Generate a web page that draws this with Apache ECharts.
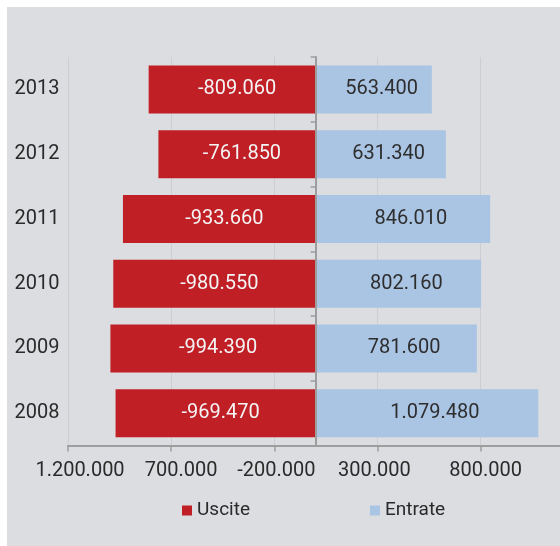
<!DOCTYPE html>
<html>
<head>
<meta charset="utf-8">
<script src="https://cdn.jsdelivr.net/npm/echarts@6/dist/echarts.min.js"></script>
<style>
  html, body { margin: 0; padding: 0; background: #ffffff; }
  #panel { position: absolute; left: 7px; top: 7px; width: 553px; height: 539px; background: #dcdde0; }
  #chart { position: absolute; left: 0; top: 0; width: 560px; height: 546px; }
</style>
</head>
<body>
<div id="panel"></div>
<div id="chart"></div>
<script>
// Years, bottom to top
const years = ['2008', '2009', '2010', '2011', '2012', '2013'];
// Outflows (negative) and inflows per year
const uscite = [-969470, -994390, -980550, -933660, -761850, -809060];
const entrate = [1079480, 781600, 802160, 846010, 631340, 563400];
// Labels printed under the horizontal axis ticks
const tickLabels = ['1.200.000', '700.000', '-200.000', '300.000', '800.000'];

const axisMin = -1200000;
const axisMax = 1300000;
const axisStep = 500000;

const FONT = 'Roboto, "Liberation Sans", sans-serif';
const AXIS_GREY = '#9d9d9d';

// Horizontal nudge (px) of each tick label, applied through rich-text padding
const tickNudge = [12, 10, 2, -3, 5];
const tickRich = {};
tickNudge.forEach((d, i) => {
  tickRich['t' + i] = {
    fontSize: 20,
    color: '#2a2a2a',
    fontFamily: FONT,
    padding: d >= 0 ? [0, 0, 0, 2 * d] : [0, -2 * d, 0, 0]
  };
});

// Italian-style thousands grouping: 1079480 -> 1.079.480
function fmt(n) {
  const s = String(Math.abs(Math.round(n))).replace(/\B(?=(\d{3})+(?!\d))/g, '.');
  return (n < 0 ? '-' : '') + s;
}

const chart = echarts.init(document.getElementById('chart'), null, { renderer: 'canvas' });

chart.setOption({
  animation: false,
  textStyle: { fontFamily: FONT },
  grid: { left: 68, top: 57, width: 515.8, bottom: 100.5, containLabel: false, outerBoundsMode: 'none' },
  legend: {
    left: 177,
    top: 496,
    icon: 'rect',
    itemWidth: 10,
    itemHeight: 10,
    itemGap: 120,
    textStyle: { fontFamily: FONT, fontSize: 19, color: '#2a2a2a' },
    data: ['Uscite', 'Entrate']
  },
  xAxis: {
    type: 'value',
    min: axisMin,
    max: axisMax,
    interval: axisStep,
    axisLine: { show: true, onZero: false, lineStyle: { color: AXIS_GREY, width: 2 } },
    axisTick: { show: true, length: 6, lineStyle: { color: AXIS_GREY, width: 1.5 } },
    splitLine: { show: true, lineStyle: { color: '#cdced2', width: 1 } },
    axisLabel: {
      margin: 15,
      fontSize: 20,
      color: '#2a2a2a',
      fontFamily: FONT,
      rich: tickRich,
      formatter: function (v) {
        const i = Math.round((v - axisMin) / axisStep);
        return tickLabels[i] !== undefined ? '{t' + i + '|' + tickLabels[i] + '}' : '';
      }
    }
  },
  yAxis: [
    {
      type: 'category',
      position: 'left',
      data: years,
      axisLine: { show: false, onZero: false },
      axisTick: { show: false },
      splitLine: { show: false },
      axisLabel: { align: 'left', margin: 53.5, fontSize: 20, color: '#2a2a2a', fontFamily: FONT }
    },
    {
      type: 'category',
      position: 'left',
      data: years,
      z: 5,
      axisLine: { show: true, onZero: true, lineStyle: { color: AXIS_GREY, width: 2 } },
      axisTick: { show: true, length: 5, lineStyle: { color: AXIS_GREY, width: 1.5 } },
      splitLine: { show: false },
      axisLabel: { show: false }
    }
  ],
  series: [
    {
      name: 'Uscite',
      type: 'bar',
      yAxisIndex: 0,
      data: uscite,
      barWidth: 48,
      itemStyle: { color: '#c11f26' },
      label: {
        show: true,
        position: 'inside',
        offset: [5, 0],
        fontSize: 20,
        fontFamily: FONT,
        color: '#f4f4f4',
        formatter: p => fmt(p.value)
      }
    },
    {
      name: 'Entrate',
      type: 'bar',
      yAxisIndex: 1,
      data: entrate,
      barWidth: 48,
      itemStyle: { color: '#aac4e3' },
      label: {
        show: true,
        position: 'inside',
        offset: [8, 0],
        fontSize: 20,
        fontFamily: FONT,
        color: '#2e2e2e',
        formatter: p => fmt(p.value)
      }
    }
  ]
});
</script>
</body>
</html>
